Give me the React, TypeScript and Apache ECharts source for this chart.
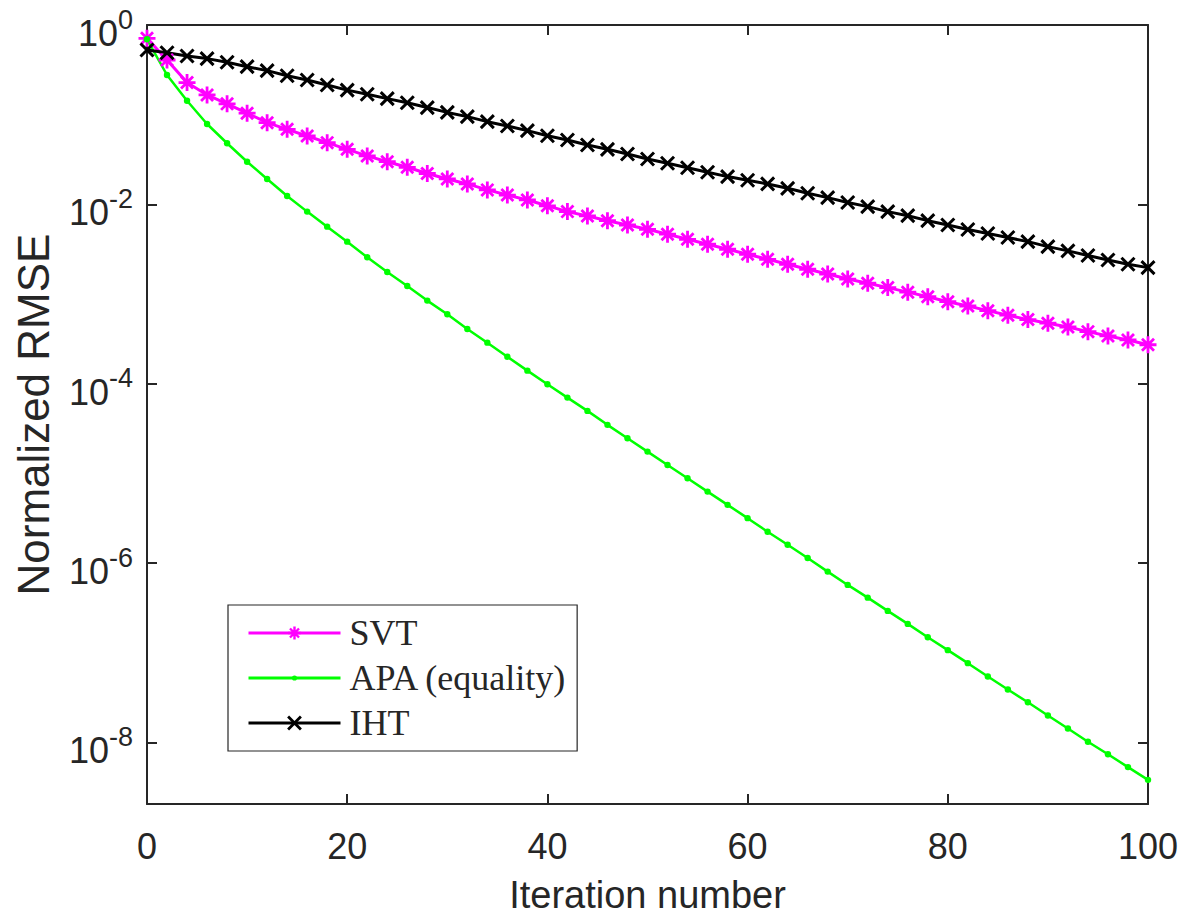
import React, { useEffect, useRef } from "react";
import * as echarts from "echarts";

// ---------------- data ----------------
const iterations = [
  0, 2, 4, 6, 8, 10, 12, 14, 16, 18, 20, 22, 24, 26, 28, 30, 32, 34, 36, 38, 40,
  42, 44, 46, 48, 50, 52, 54, 56, 58, 60, 62, 64, 66, 68, 70, 72, 74, 76, 78, 80,
  82, 84, 86, 88, 90, 92, 94, 96, 98, 100,
];

const svtValues = [
  0.711, 0.407, 0.228, 0.166, 0.132, 0.104, 0.0815, 0.0687, 0.0579, 0.0488, 0.0411,
  0.0347, 0.0299, 0.0259, 0.0221, 0.0192, 0.0169, 0.0145, 0.0127, 0.0112, 0.00964,
  0.0083, 0.00743, 0.00658, 0.00589, 0.00527, 0.00465, 0.00408, 0.00359, 0.00316, 0.00278,
  0.00244, 0.00215, 0.00189, 0.00167, 0.00147, 0.00132, 0.00118, 0.00105, 0.000933, 0.000822,
  0.000736, 0.000653, 0.000581, 0.000519, 0.000473, 0.000429, 0.000381, 0.000341, 0.000308, 0.000272,
];

const apaValues = [
  0.693, 0.277, 0.143, 0.0787, 0.048, 0.0299, 0.0192, 0.0124, 0.0083, 0.00564, 0.00384,
  0.00257, 0.00176, 0.00123, 0.000845, 0.000596, 0.000408, 0.000287, 0.0002, 0.00014, 9.86e-5,
  7.0e-5, 4.98e-5, 3.48e-5, 2.47e-5, 1.75e-5, 1.24e-5, 8.83e-6, 6.27e-6, 4.46e-6, 3.17e-6,
  2.24e-6, 1.6e-6, 1.14e-6, 8.04e-7, 5.71e-7, 4.12e-7, 2.93e-7, 2.1e-7, 1.49e-7, 1.07e-7,
  7.66e-8, 5.43e-8, 3.89e-8, 2.81e-8, 2.0e-8, 1.43e-8, 1.02e-8, 7.4e-9, 5.31e-9, 3.83e-9,
];

const ihtValues = [
  0.526, 0.491, 0.451, 0.422, 0.384, 0.343, 0.31, 0.272, 0.244, 0.214, 0.188,
  0.169, 0.151, 0.136, 0.12, 0.106, 0.0951, 0.0836, 0.0748, 0.0664, 0.0583,
  0.0522, 0.0459, 0.0411, 0.0365, 0.0321, 0.0287, 0.0256, 0.0228, 0.0204, 0.0186,
  0.0169, 0.0151, 0.0133, 0.0119, 0.0105, 0.00944, 0.0083, 0.00748, 0.00658, 0.00589,
  0.00525, 0.00473, 0.00427, 0.00384, 0.00338, 0.00303, 0.00269, 0.0024, 0.00215, 0.00197,
];

const seriesNames = ["SVT", "APA (equality)", "IHT"];
const yTickValues = [1e-8, 1e-6, 1e-4, 1e-2, 1];
const yMin = 2.06e-9;
const yMax = 1;
const xMin = 0;
const xMax = 100;
const xStep = 20;

// ---------------- styles ----------------
const SANS = '"Liberation Sans", Arial, Helvetica, sans-serif';
const SERIF = '"Liberation Serif", "Times New Roman", serif';
const AXIS = "#262626";
const MAGENTA = "#ff00ff";
const GREEN = "#00ff00";
const BLACK = "#000000";

const symAsterisk =
  "path://M10 0L10 20M0 10L20 10M2.93 2.93L17.07 17.07M17.07 2.93L2.93 17.07";
const symCross = "path://M0 0L20 20M20 0L0 20";
const symDot = "path://M0 0M20 20M6 10A4 4 0 1 0 14 10A4 4 0 1 0 6 10Z";

const axisLineStyle = { show: true, onZero: false, lineStyle: { color: AXIS, width: 2 } };
const axisTickStyle = { show: true, inside: true, length: 10, lineStyle: { color: AXIS, width: 2 } };

export default function App() {
  const ref = useRef<HTMLDivElement>(null);

  useEffect(() => {
    if (!ref.current) return;
    const chart = echarts.init(ref.current, null, { renderer: "svg" });

    const pairs = (vals: number[]) => iterations.map((x, i) => [x, vals[i]]);

    const option: any = {
      animation: false,
      backgroundColor: "#ffffff",
      grid: {
        left: 147,
        right: 33,
        top: 25,
        bottom: 113,
        containLabel: false,
        outerBoundsMode: "none",
      },
      legend: {
        orient: "vertical",
        left: 228,
        top: 605,
        padding: [10, 10, 10, 19],
        itemGap: 9,
        itemWidth: 92,
        itemHeight: 16,
        backgroundColor: "#ffffff",
        borderColor: AXIS,
        borderWidth: 1.2,
        borderRadius: 0,
        selectedMode: false,
        textStyle: {
          fontFamily: SERIF,
          fontSize: 36,
          color: AXIS,
          padding: [0, 0, 0, 4],
        },
        data: [
          { name: seriesNames[0], itemStyle: { borderWidth: 2.4 }, lineStyle: { width: 3 } },
          { name: seriesNames[1], itemStyle: { borderWidth: 0 }, lineStyle: { width: 3 } },
          { name: seriesNames[2], itemStyle: { borderWidth: 2.8 }, lineStyle: { width: 3 } },
        ],
      },
      xAxis: [
        {
          type: "value",
          position: "bottom",
          min: xMin,
          max: xMax,
          interval: xStep,
          axisLine: axisLineStyle,
          axisTick: axisTickStyle,
          splitLine: { show: false },
          axisLabel: { margin: 24, fontSize: 36, color: AXIS, fontFamily: SANS },
          name: "Iteration number",
          nameLocation: "middle",
          nameGap: 74,
          nameTextStyle: { fontSize: 38, lineHeight: 34, color: AXIS, fontFamily: SANS },
        },
        {
          type: "value",
          position: "top",
          min: xMin,
          max: xMax,
          interval: xStep,
          axisLine: axisLineStyle,
          axisTick: axisTickStyle,
          splitLine: { show: false },
          axisLabel: { show: false },
        },
      ],
      yAxis: [
        {
          type: "log",
          logBase: 10,
          position: "left",
          min: yMin,
          max: yMax,
          axisLine: axisLineStyle,
          axisTick: { ...axisTickStyle, customValues: yTickValues },
          minorTick: { show: false },
          splitLine: { show: false },
          axisLabel: {
            customValues: yTickValues,
            margin: 14,
            color: AXIS,
            fontFamily: SANS,
            formatter: (v: number) => {
              const e = Math.round(Math.log10(v));
              return `{b|10}{s|${e}}`;
            },
            rich: {
              b: { fontSize: 36, fontFamily: SANS, color: AXIS, padding: [17, 0, 0, 0] },
              s: { fontSize: 27, fontFamily: SANS, color: AXIS, padding: [0, 0, 11, 0] },
            },
          },
          name: "Normalized RMSE",
          nameLocation: "middle",
          nameGap: 92,
          nameTextStyle: { fontSize: 44, color: AXIS, fontFamily: SANS },
        },
        {
          type: "log",
          logBase: 10,
          position: "right",
          min: yMin,
          max: yMax,
          axisLine: axisLineStyle,
          axisTick: { ...axisTickStyle, customValues: yTickValues },
          minorTick: { show: false },
          splitLine: { show: false },
          axisLabel: { show: false, customValues: yTickValues },
        },
      ],
      series: [
        {
          name: seriesNames[0],
          type: "line",
          data: pairs(svtValues),
          symbol: symAsterisk,
          symbolSize: 17,
          showAllSymbol: true,
          clip: false,
          lineStyle: { color: MAGENTA, width: 3 },
          itemStyle: { color: MAGENTA, borderColor: MAGENTA, borderWidth: 2.8 },
          emphasis: { disabled: true },
          silent: true,
        },
        {
          name: seriesNames[1],
          type: "line",
          data: pairs(apaValues),
          symbol: symDot,
          symbolSize: 16,
          showAllSymbol: true,
          clip: false,
          lineStyle: { color: GREEN, width: 2.5 },
          itemStyle: { color: GREEN, borderColor: GREEN, borderWidth: 0 },
          emphasis: { disabled: true },
          silent: true,
        },
        {
          name: seriesNames[2],
          type: "line",
          data: pairs(ihtValues),
          symbol: symCross,
          symbolSize: 13,
          showAllSymbol: true,
          clip: false,
          lineStyle: { color: BLACK, width: 3 },
          itemStyle: { color: BLACK, borderColor: BLACK, borderWidth: 3 },
          emphasis: { disabled: true },
          silent: true,
        },
      ],
    };

    chart.setOption(option);
    return () => chart.dispose();
  }, []);

  return (
    <div
      ref={ref}
      style={{ position: "fixed", left: 0, top: 0, width: 1181, height: 917, background: "#fff" }}
    />
  );
}
